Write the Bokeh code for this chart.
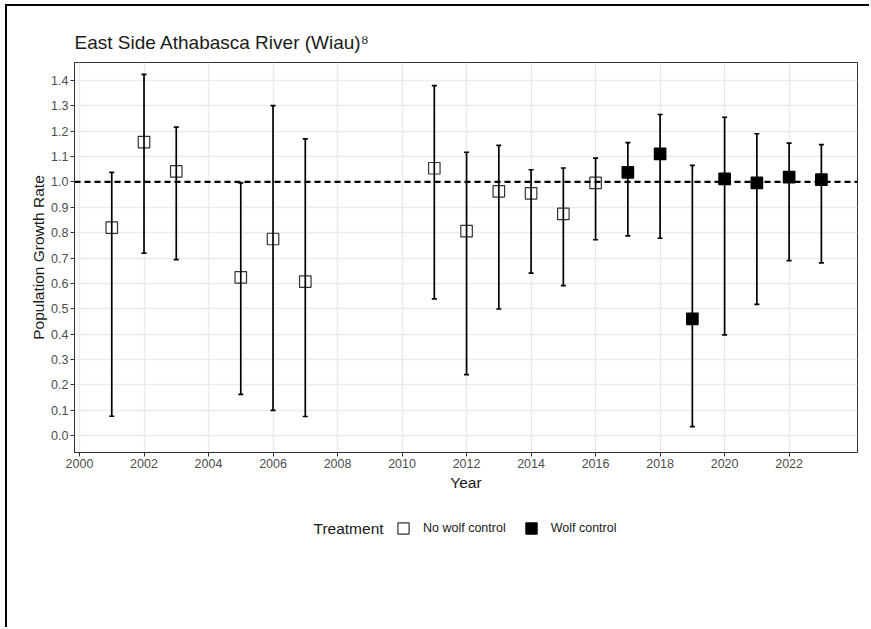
from bokeh.plotting import figure
from bokeh.layouts import column
from bokeh.models import (ColumnDataSource, Whisker, TeeHead, Span, Legend, LegendItem,
                          FixedTicker, PrintfTickFormatter, Range1d, Label)
from bokeh.embed import file_html
from bokeh.resources import INLINE

# Annual population growth rate (lambda) with 90% intervals
years_nwc = [2001, 2002, 2003, 2005, 2006, 2007, 2011, 2012, 2013, 2014, 2015, 2016]
rate_nwc = [0.820, 1.157, 1.042, 0.624, 0.775, 0.607, 1.054, 0.806, 0.963, 0.955, 0.874, 0.996]
lower_nwc = [0.076, 0.719, 0.694, 0.162, 0.099, 0.075, 0.539, 0.240, 0.499, 0.640, 0.591, 0.772]
upper_nwc = [1.038, 1.424, 1.216, 0.996, 1.301, 1.170, 1.380, 1.117, 1.144, 1.048, 1.055, 1.094]

years_wc = [2017, 2018, 2019, 2020, 2021, 2022, 2023]
rate_wc = [1.038, 1.111, 0.460, 1.012, 0.996, 1.019, 1.009]
lower_wc = [0.787, 0.778, 0.035, 0.397, 0.517, 0.690, 0.681]
upper_wc = [1.155, 1.266, 1.065, 1.255, 1.190, 1.153, 1.147]

treatments = ["No wolf control", "Wolf control"]
x_ticks = list(range(2000, 2023, 2))
y_ticks = [i / 10 for i in range(0, 15)]

FONT = "Liberation Sans"
INK = "#1a1a1a"
OPEN_STYLE = dict(marker="square", fill_color="white", line_color="#333333", line_width=1.2)
FILLED_STYLE = dict(marker="square", fill_color="black", line_color="black", line_width=1.2)

src_nwc = ColumnDataSource(dict(x=years_nwc, y=rate_nwc, lo=lower_nwc, hi=upper_nwc))
src_wc = ColumnDataSource(dict(x=years_wc, y=rate_wc, lo=lower_wc, hi=upper_wc))

# ---- main panel -------------------------------------------------------------
p = figure(width=862, height=494, output_backend="svg", toolbar_location=None,
           x_range=Range1d(1999.845, 2024.12), y_range=Range1d(-0.067, 1.471),
           min_border_left=67, min_border_right=12, min_border_top=56, min_border_bottom=48)

p.title.text = "East Side Athabasca River (Wiau)\u2078"
p.title.text_font = FONT
p.title.text_font_size = "19px"
p.title.text_font_style = "normal"
p.title.text_color = INK
p.title.align = "left"
p.title.offset = 0
p.title.standoff = 20

p.outline_line_color = "#333333"
p.outline_line_width = 1

for ax in (p.xaxis[0], p.yaxis[0]):
    ax.axis_line_color = "#333333"
    ax.major_tick_line_color = "#333333"
    ax.major_tick_out = 4
    ax.major_tick_in = 0
    ax.minor_tick_line_color = None
    ax.major_label_text_font = FONT
    ax.major_label_text_font_size = "12.5px"
    ax.major_label_text_color = "#4d4d4d"
    ax.axis_label_text_font = FONT
    ax.axis_label_text_font_size = "15.5px"
    ax.axis_label_text_font_style = "normal"
    ax.axis_label_text_color = INK
    ax.major_label_standoff = 2
    ax.axis_label_standoff = 3

p.yaxis.axis_label_standoff = 1
p.xaxis.ticker = FixedTicker(ticks=x_ticks)
p.yaxis.ticker = FixedTicker(ticks=y_ticks)
p.yaxis.formatter = PrintfTickFormatter(format="%.1f")
p.xaxis.axis_label = "Year"
p.yaxis.axis_label = "Population Growth Rate"

p.xgrid.grid_line_color = "#ebebeb"
p.ygrid.grid_line_color = "#ebebeb"
p.xgrid.grid_line_width = 1.5
p.ygrid.grid_line_width = 1.5

p.add_layout(Span(location=1.0, dimension="width", line_color="black",
                  line_width=2.2, line_dash="6 4"))

for src in (src_nwc, src_wc):
    p.add_layout(Whisker(source=src, base="x", upper="hi", lower="lo",
                         line_color="black", line_width=1.7, level="glyph",
                         upper_head=TeeHead(size=5, line_color="black", line_width=1.7),
                         lower_head=TeeHead(size=5, line_color="black", line_width=1.7)))

p.scatter("x", "y", source=src_nwc, size=11.5, **OPEN_STYLE)
p.scatter("x", "y", source=src_wc, size=11.5, **FILLED_STYLE)

# ---- legend strip under the panel ---------------------------------------------
# The strip's frame lines up with the panel above; its ranges are in page pixels
# (y runs downward) so the heading and keys can be placed directly.
strip = figure(width=862, height=127, output_backend="svg", toolbar_location=None,
               x_range=Range1d(74, 857), y_range=Range1d(627, 500),
               x_axis_location=None, y_axis_location=None, min_border=0)
strip.outline_line_color = None
strip.grid.visible = False

# key renderers share the data sources; their points fall outside the strip's ranges
key_nwc = strip.scatter("x", "y", source=src_nwc, size=11.5, **OPEN_STYLE)
key_wc = strip.scatter("x", "y", source=src_wc, size=11.5, **FILLED_STYLE)

legend = Legend(items=[LegendItem(label=treatments[0], renderers=[key_nwc]),
                       LegendItem(label=treatments[1], renderers=[key_wc])],
                orientation="horizontal", location=(315, 85))
legend.label_text_font = FONT
legend.label_text_font_size = "12.5px"
legend.label_text_color = INK
legend.border_line_color = None
legend.background_fill_alpha = 0
legend.glyph_width = 28
legend.glyph_height = 28
legend.label_standoff = 6
legend.spacing = 11
legend.padding = 0
legend.margin = 0
strip.add_layout(legend, "center")

strip.add_layout(Label(x=313, y=528, text="Treatment", text_font=FONT,
                       text_font_size="15.5px", text_color=INK,
                       text_baseline="middle", text_align="left"))

page = column(p, strip, spacing=0)
page.styles = {"margin-left": "5px", "margin-top": "4px",
               "border-top": "2px solid black", "border-left": "2px solid black"}

html = file_html(page, INLINE)
html = html.replace("<head>", "<head><style>html, body { margin: 0; overflow: hidden; }</style>", 1)
open("out.html", "w").write(html)
